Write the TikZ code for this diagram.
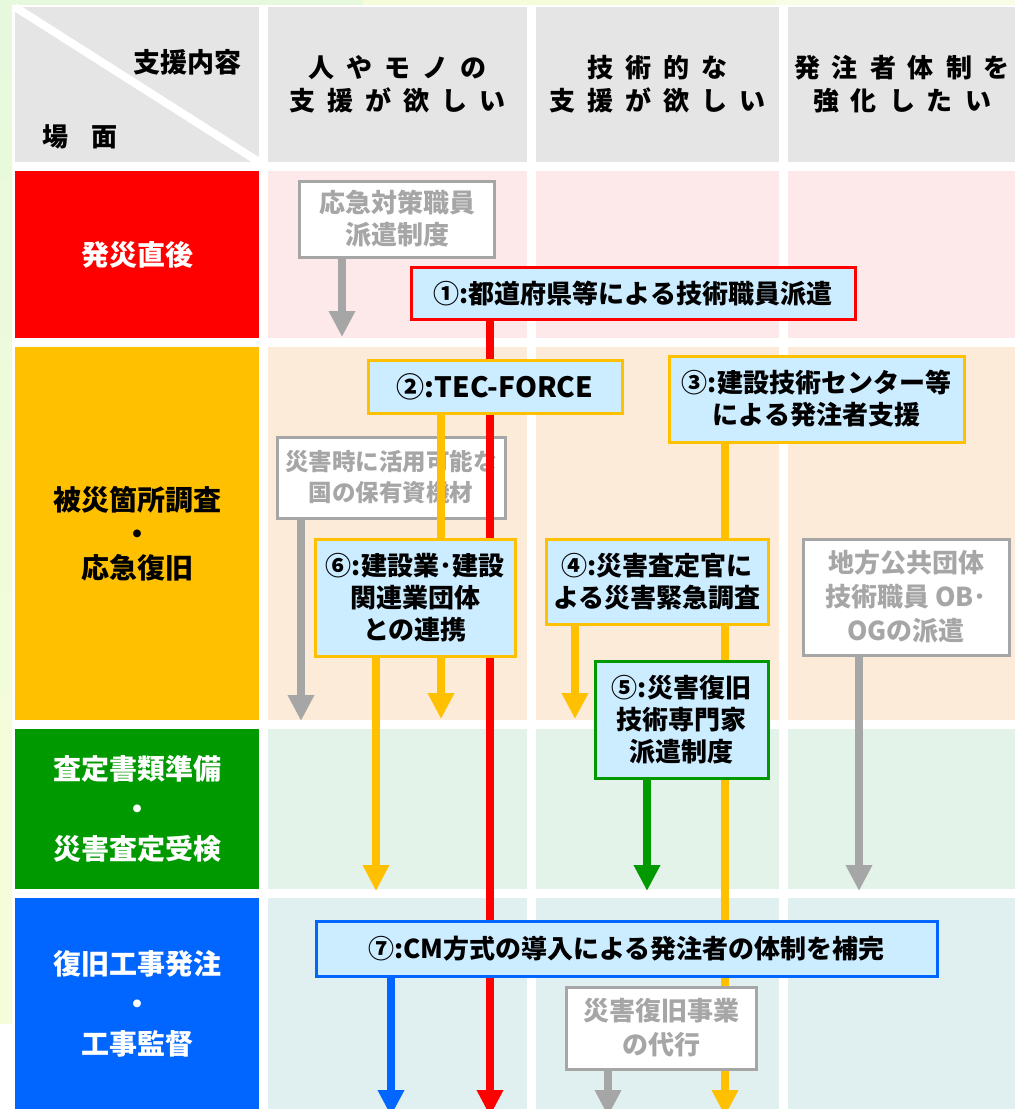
\documentclass[tikz,border=0pt]{standalone}
\usepackage{fontspec}
\setmainfont{Noto Sans CJK JP}
\usetikzlibrary{arrows.meta}
\pgfdeclarelayer{bg}
\pgfdeclarelayer{lines}
\pgfsetlayers{bg,lines,main}
\definecolor{hdr}{HTML}{E5E5E5}
\definecolor{cred}{HTML}{FF0000}
\definecolor{corg}{HTML}{FFC000}
\definecolor{cgrn}{HTML}{009900}
\definecolor{cblu}{HTML}{0066FF}
\definecolor{cgry}{HTML}{A6A6A6}
\definecolor{boxfill}{HTML}{CCECFF}
\definecolor{pinkbg}{HTML}{FDE9E9}
\definecolor{peachbg}{HTML}{FDEBDA}
\definecolor{mintbg}{HTML}{E4F3EA}
\definecolor{bluebg}{HTML}{E0EFF0}
\definecolor{bggreen}{HTML}{E6F9DC}
\definecolor{bgyellow}{HTML}{F4FCD9}
\definecolor{bgpale}{HTML}{F8FDE6}
\newcommand\hdrch[1]{\makebox[38pt]{#1}}
\newcommand\boxfont{\fontsize{26}{32}\selectfont\bfseries}
\begin{document}
\begin{tikzpicture}[x=1pt,y=-1pt,
  cell/.style={anchor=north west, inner sep=0pt, outer sep=0pt, draw=none, align=center},
  lbl/.style={cell, font=\fontsize{28}{34}\selectfont\bfseries},
  hdrtxt/.style={cell, fill=hdr, font=\fontsize{26}{33}\selectfont\bfseries},
  box/.style={draw, line width=3pt, fill=boxfill, inner sep=0pt, align=center, text=black, font=\boxfont},
  gbox/.style={draw=cgry, line width=3pt, fill=white, inner sep=0pt, align=center, text=cgry, font=\boxfont},
  arr/.style={line width=8pt, -{Triangle[width=25pt,length=26pt]}}
]
\useasboundingbox (0,0) rectangle (1015,1109);
\clip (0,0) rectangle (1015,1109);

% free ends of the connectors
\coordinate (ta) at (342,337);
\coordinate (tb) at (301,721);
\coordinate (tR) at (490,1116);
\coordinate (t2) at (441,719);
\coordinate (t3) at (725,1116);
\coordinate (t6) at (376,891);
\coordinate (t4) at (575,719);
\coordinate (t5) at (647,891);
\coordinate (tc) at (859,891);
\coordinate (t7) at (391,1116);
\coordinate (td) at (608,1116);

\begin{pgfonlayer}{bg}
  \fill[white] (0,0) rectangle (1015,1109);
  \shade[top color=bggreen, bottom color=bgyellow] (0,0) rectangle (12,720);
  \fill[bgyellow] (0,720) rectangle (12,1024);
  \fill[bggreen] (0,0) rectangle (363,5);
  \fill[bgyellow] (363,0) rectangle (776,5);
  \fill[bgpale] (776,0) rectangle (1015,5);

  % header row
  \node[cell, fill=hdr, minimum width=244pt, minimum height=155pt] (h0) at (15,7) {};
  \node[hdrtxt, minimum width=259pt, minimum height=155pt] (h1) at (268,7)
    {\hdrch{人}\hdrch{や}\hdrch{モ}\hdrch{ノ}\hdrch{の}\\\hdrch{支}\hdrch{援}\hdrch{が}\hdrch{欲}\hdrch{し}\hdrch{い}};
  \node[hdrtxt, minimum width=243pt, minimum height=155pt] (h2) at (536,7)
    {\hdrch{技}\hdrch{術}\hdrch{的}\hdrch{な}\\\hdrch{支}\hdrch{援}\hdrch{が}\hdrch{欲}\hdrch{し}\hdrch{い}};
  \node[hdrtxt, minimum width=227pt, minimum height=155pt] (h3) at (788,7)
    {\hdrch{発}\hdrch{注}\hdrch{者}\hdrch{体}\hdrch{制}\hdrch{を}\\\hdrch{強}\hdrch{化}\hdrch{し}\hdrch{た}\hdrch{い}};
  \draw[white, line width=8pt] (h0.north west) -- (h0.south east);
  \node[font=\fontsize{27}{30}\selectfont\bfseries, inner sep=0pt] (lab1) at (187,62) {支援内容};
  \node[font=\fontsize{26}{30}\selectfont\bfseries, inner sep=0pt] (lab2) at (80,137) {場\hspace{24pt}面};

  % scene labels
  \node[lbl, fill=cred, text=white, minimum width=244pt, minimum height=167pt] (l1) at (15,171) {発災直後};
  \node[lbl, fill=corg, text=black, minimum width=244pt, minimum height=373pt] (l2) at (15,347) {被災箇所調査\\・\\応急復旧};
  \node[lbl, fill=cgrn, text=white, minimum width=244pt, minimum height=160pt, font=\fontsize{28}{40}\selectfont\bfseries] (l3) at (15,729) {査定書類準備\\・\\災害査定受検};
  \node[lbl, fill=cblu, text=white, minimum width=244pt, minimum height=211pt, font=\fontsize{28}{40}\selectfont\bfseries] (l4) at (15,898) {復旧工事発注\\・\\工事監督};

  % content cells
  \node[cell, fill=pinkbg, minimum width=259pt, minimum height=167pt] (c11) at (268,171) {};
  \node[cell, fill=pinkbg, minimum width=243pt, minimum height=167pt] (c12) at (536,171) {};
  \node[cell, fill=pinkbg, minimum width=227pt, minimum height=167pt] (c13) at (788,171) {};
  \node[cell, fill=peachbg, minimum width=259pt, minimum height=373pt] (c21) at (268,347) {};
  \node[cell, fill=peachbg, minimum width=243pt, minimum height=373pt] (c22) at (536,347) {};
  \node[cell, fill=peachbg, minimum width=227pt, minimum height=373pt] (c23) at (788,347) {};
  \node[cell, fill=mintbg, minimum width=259pt, minimum height=160pt] (c31) at (268,729) {};
  \node[cell, fill=mintbg, minimum width=243pt, minimum height=160pt] (c32) at (536,729) {};
  \node[cell, fill=mintbg, minimum width=227pt, minimum height=160pt] (c33) at (788,729) {};
  \node[cell, fill=bluebg, minimum width=259pt, minimum height=211pt] (c41) at (268,898) {};
  \node[cell, fill=bluebg, minimum width=243pt, minimum height=211pt] (c42) at (536,898) {};
  \node[cell, fill=bluebg, minimum width=227pt, minimum height=211pt] (c43) at (788,898) {};

  % grey box that lies under the lines
  \node[gbox, minimum width=228pt, minimum height=81pt, font=\fontsize{23.5}{31}\selectfont\bfseries] (g2) at (391,477.5) {災害時に活用可能な\\国の保有資機材};
\end{pgfonlayer}

% boxes on top
\node[gbox, minimum width=195pt, minimum height=76pt] (g1) at (397,219) {応急対策職員\\派遣制度};
\node[box, draw=cred, minimum width=444pt, minimum height=52pt] (b1) at (633,293.5) {①:都道府県等による技術職員派遣};
\node[box, draw=corg, minimum width=254pt, minimum height=53pt, font=\fontsize{28}{32}\selectfont\bfseries] (b2) at (495,386.5) {②:TEC-FORCE};
\node[box, draw=corg, minimum width=295pt, minimum height=86pt] (b3) at (816.5,399) {③:建設技術センター等\\による発注者支援};
\node[box, draw=corg, minimum width=200pt, minimum height=117pt] (b6) at (415,597.5) {⑥:建設業･建設\\関連業団体\\との連携};
\node[box, draw=corg, minimum width=222pt, minimum height=85pt] (b4) at (657,581.5) {④:災害査定官に\\よる災害緊急調査};
\node[box, draw=cgrn, minimum width=173pt, minimum height=117pt] (b5) at (681.5,719.5) {⑤:災害復旧\\技術専門家\\派遣制度};
\node[gbox, minimum width=206pt, minimum height=116pt, font=\fontsize{26}{34}\selectfont\bfseries] (g3) at (906,597) {地方公共団体\\技術職員 OB･\\OGの派遣};
\node[box, draw=cblu, minimum width=621pt, minimum height=55pt] (b7) at (626.5,948.5) {⑦:CM方式の導入による発注者の体制を補完};
\node[gbox, minimum width=190pt, minimum height=82pt, font=\fontsize{26}{34}\selectfont\bfseries] (g4) at (661,1028) {災害復旧事業\\の代行};

% connectors
\begin{pgfonlayer}{lines}
  \draw[arr, cgry] (g1.south -| ta) -- (ta);
  \draw[arr, cgry] (g2.south -| tb) -- (tb);
  \draw[arr, cred] (b1.south -| tR) -- (tR);
  \draw[arr, corg] (b2.south -| t2) -- (t2);
  \draw[arr, corg] (b3.south -| t3) -- (t3);
  \draw[arr, corg] (b6.south -| t6) -- (t6);
  \draw[arr, corg] (b4.south -| t4) -- (t4);
  \draw[arr, cgrn] (b5.south -| t5) -- (t5);
  \draw[arr, cgry] (g3.south -| tc) -- (tc);
  \draw[arr, cblu] (b7.south -| t7) -- (t7);
  \draw[arr, cgry] (g4.south -| td) -- (td);
\end{pgfonlayer}
\end{tikzpicture}
\end{document}
